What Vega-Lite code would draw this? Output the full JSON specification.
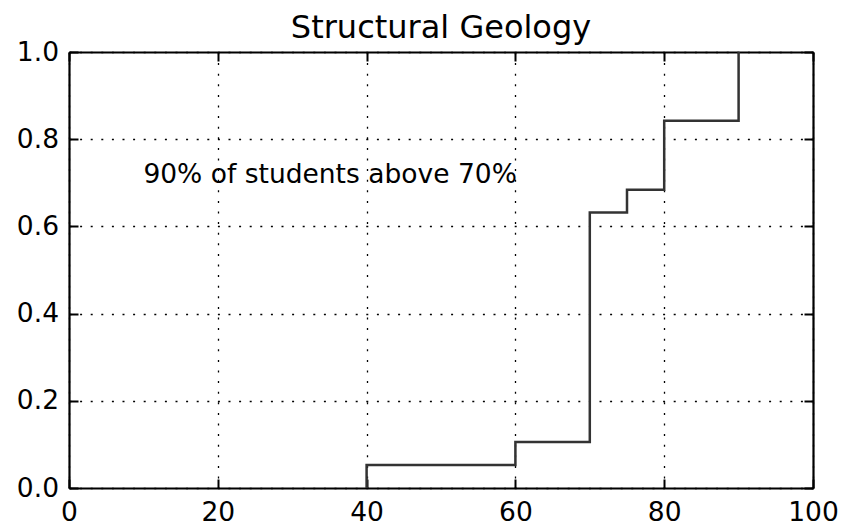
{
  "$schema": "https://vega.github.io/schema/vega-lite/v6.json",
  "width": 744,
  "height": 436,
  "autosize": "none",
  "padding": {"left": 69, "top": 52, "right": 51, "bottom": 38},
  "background": "white",
  "title": {
    "text": "Structural Geology",
    "font": "DejaVu Sans",
    "fontSize": 32,
    "fontWeight": "normal",
    "color": "black",
    "baseline": "bottom",
    "offset": 8,
    "dy": 46
  },
  "config": {
    "view": {"stroke": null},
    "axis": {
      "domainColor": "black",
      "domainWidth": 2.2,
      "tickColor": "black",
      "tickWidth": 2,
      "tickSize": -9,
      "labelFont": "DejaVu Sans",
      "labelFontSize": 26.5,
      "labelColor": "black",
      "labelFlush": false,
      "labelOverlap": false,
      "labelBound": false,
      "gridColor": "black",
      "gridWidth": 1.3,
      "gridDash": [2, 8.6],
      "gridOpacity": 1,
      "title": null
    }
  },
  "datasets": {
    "ecdf": [
      {"score": 40, "fraction": 0},
      {"score": 40, "fraction": 0.0526},
      {"score": 60, "fraction": 0.1053},
      {"score": 70, "fraction": 0.6316},
      {"score": 75, "fraction": 0.6842},
      {"score": 80, "fraction": 0.8421},
      {"score": 90, "fraction": 1.0}
    ],
    "note": [
      {"score": 10, "fraction": 0.7, "label": "90% of students above 70%"}
    ]
  },
  "layer": [
    {
      "data": {"name": "ecdf"},
      "mark": {"type": "line", "interpolate": "step-after", "color": "#333333", "strokeWidth": 2.5, "clip": true},
      "encoding": {
        "x": {
          "field": "score",
          "type": "quantitative",
          "scale": {"domain": [0, 100], "nice": false, "zero": false},
          "axis": {"orient": "bottom", "values": [0, 20, 40, 60, 80, 100], "format": "d", "labelPadding": 20, "grid": true}
        },
        "y": {
          "field": "fraction",
          "type": "quantitative",
          "scale": {"domain": [0, 1], "nice": false, "zero": false},
          "axis": {"orient": "left", "values": [0, 0.2, 0.4, 0.6, 0.8, 1.0], "format": ".1f", "labelPadding": 19.5, "grid": true}
        }
      }
    },
    {
      "data": {"name": "note"},
      "mark": {"type": "text", "align": "left", "baseline": "alphabetic", "font": "DejaVu Sans", "fontSize": 26.5, "color": "black"},
      "encoding": {
        "x": {
          "field": "score",
          "type": "quantitative",
          "scale": {"domain": [0, 100], "nice": false, "zero": false},
          "axis": {"orient": "top", "values": [0, 20, 40, 60, 80, 100], "labels": false, "grid": false}
        },
        "y": {
          "field": "fraction",
          "type": "quantitative",
          "scale": {"domain": [0, 1], "nice": false, "zero": false},
          "axis": {"orient": "right", "values": [0, 0.2, 0.4, 0.6, 0.8, 1.0], "labels": false, "grid": false}
        },
        "text": {"field": "label"}
      }
    }
  ],
  "resolve": {"axis": {"x": "independent", "y": "independent"}}
}
